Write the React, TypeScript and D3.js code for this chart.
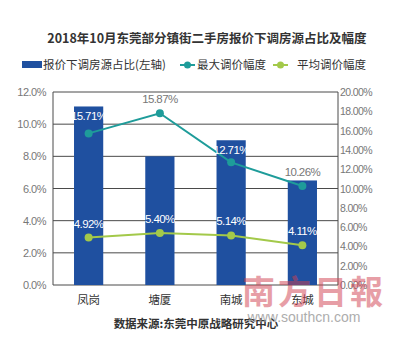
import React from "react";
import * as d3 from "d3";

const categories = ["凤岗", "塘厦", "南城", "东城"];
const shareValues = [11.1, 8.0, 9.0, 6.5];
// plotted positions of the max-adjustment line as drawn in the picture
const maxAdjust = [15.71, 17.8, 12.71, 10.26];
const maxAdjustLabels = ["15.71%", "15.87%", "12.71%", "10.26%"];
const avgAdjust = [4.92, 5.4, 5.14, 4.11];
const avgAdjustLabels = ["4.92%", "5.40%", "5.14%", "4.11%"];
const leftTicks = [0, 2, 4, 6, 8, 10, 12];
const rightTicks = [0, 2, 4, 6, 8, 10, 12, 14, 16, 18, 20];

const W = 400, H = 360;
const M = { left: 53, right: 338, top: 92, bottom: 285 };
const BLUE = "#1f50a0";
const TEAL = "#1e9c9a";
const GREEN = "#a3c94a";
const FONT = "'Liberation Sans', Arial, 'Noto Sans CJK SC', sans-serif";
const CJK = "'Noto Sans CJK SC', sans-serif";

export default function App() {
  const x = d3.scaleBand<string>().domain(categories).range([M.left, M.right]).paddingInner(0.59).paddingOuter(0.295);
  const yL = d3.scaleLinear().domain([0, 12]).range([M.bottom, M.top]);
  const yR = d3.scaleLinear().domain([0, 20]).range([M.bottom, M.top]);
  const cx = (c: string) => (x(c) as number) + x.bandwidth() / 2;
  const line = d3.line<number>().x((_, i) => cx(categories[i])).y((d) => yR(d));

  return (
    <svg width={W} height={H} style={{ position: "absolute", left: 0, top: 0, background: "#fff" }}>
      <text x={207} y={43} textAnchor="middle" fontFamily={CJK} fontSize={12.5} fontWeight={700} fill="#333">
        2018年10月东莞部分镇街二手房报价下调房源占比及幅度
      </text>
      {/* legend */}
      <rect x={22} y={61} width={20} height={7} fill={BLUE} />
      <text x={43} y={69} fontFamily={CJK} fontSize={11.5} fill="#333">报价下调房源占比(左轴)</text>
      <line x1={180} x2={195} y1={65} y2={65} stroke={TEAL} strokeWidth={2} />
      <circle cx={187.5} cy={65} r={3.5} fill={TEAL} />
      <text x={197} y={69} fontFamily={CJK} fontSize={11.5} fill="#333">最大调价幅度</text>
      <line x1={273} x2={288} y1={65} y2={65} stroke={GREEN} strokeWidth={2} />
      <circle cx={280.5} cy={65} r={3.5} fill={GREEN} />
      <text x={297} y={69} fontFamily={CJK} fontSize={11.5} fill="#333">平均调价幅度</text>

      {/* grid */}
      {leftTicks.map((t) => (
        <g key={"l" + t}>
          <line x1={M.left} x2={M.right} y1={yL(t)} y2={yL(t)} stroke="#4a4a4a" strokeWidth={1} />
          <text x={46} y={yL(t) + 4} textAnchor="end" fontFamily={FONT} fontSize={11} fill="#777" letterSpacing={-0.5}>
            {t.toFixed(1)}%
          </text>
        </g>
      ))}
      <line x1={M.left} x2={M.left} y1={M.top} y2={M.bottom} stroke="#4a4a4a" />
      <line x1={M.right} x2={M.right} y1={M.top} y2={M.bottom} stroke="#4a4a4a" />
      {rightTicks.map((t) => (
        <text key={"r" + t} x={340} y={yR(t) + 4} fontFamily={FONT} fontSize={10.5} fill="#777" letterSpacing={-0.6}>
          {t.toFixed(2)}%
        </text>
      ))}

      {/* bars */}
      {categories.map((c, i) => (
        <rect key={c} x={x(c)} y={yL(shareValues[i])} width={x.bandwidth()} height={M.bottom - yL(shareValues[i])} fill={BLUE} />
      ))}

      {/* lines */}
      <path d={line(maxAdjust) || ""} fill="none" stroke={TEAL} strokeWidth={2} />
      <path d={line(avgAdjust) || ""} fill="none" stroke={GREEN} strokeWidth={2} />
      {categories.map((c, i) => (
        <g key={"p" + c}>
          <circle cx={cx(c)} cy={yR(maxAdjust[i])} r={4} fill={TEAL} />
          <circle cx={cx(c)} cy={yR(avgAdjust[i])} r={4} fill={GREEN} />
        </g>
      ))}

      {/* labels */}
      {categories.map((c, i) => {
        const onBar = yR(maxAdjust[i]) > yL(shareValues[i]) + 10;
        return (
          <g key={"t" + c} fontFamily={FONT} letterSpacing={-0.6}>
            <text x={cx(c)} y={onBar ? yL(shareValues[i]) + 14 : yR(maxAdjust[i]) - 10} textAnchor="middle" fontSize={11.5}
              fill={onBar ? "#fff" : "#777"}>
              {maxAdjustLabels[i]}
            </text>
            <text x={cx(c)} y={yR(avgAdjust[i]) - 10} textAnchor="middle" fontSize={11.5} fill="#fff">
              {avgAdjustLabels[i]}
            </text>
          </g>
        );
      })}

      {/* x labels */}
      {categories.map((c) => (
        <text key={"x" + c} x={cx(c)} y={304} textAnchor="middle" fontFamily={CJK} fontSize={11.5} fill="#333">{c}</text>
      ))}
      <text x={196} y={328} textAnchor="middle" fontFamily={CJK} fontSize={11.5} fontWeight={700} fill="#333">
        数据来源:东莞中原战略研究中心
      </text>

      {/* watermark */}
      <text x={242} y={304} fontFamily="'Noto Sans CJK TC', serif" fontSize={33} fontWeight={700} fill="#d04050" opacity={0.5} letterSpacing={3}>
        南方日報
      </text>
      <text x={304} y={322} textAnchor="middle" fontFamily={FONT} fontSize={14} fill="#999" opacity={0.8}>
        www.southcn.com
      </text>
    </svg>
  );
}
